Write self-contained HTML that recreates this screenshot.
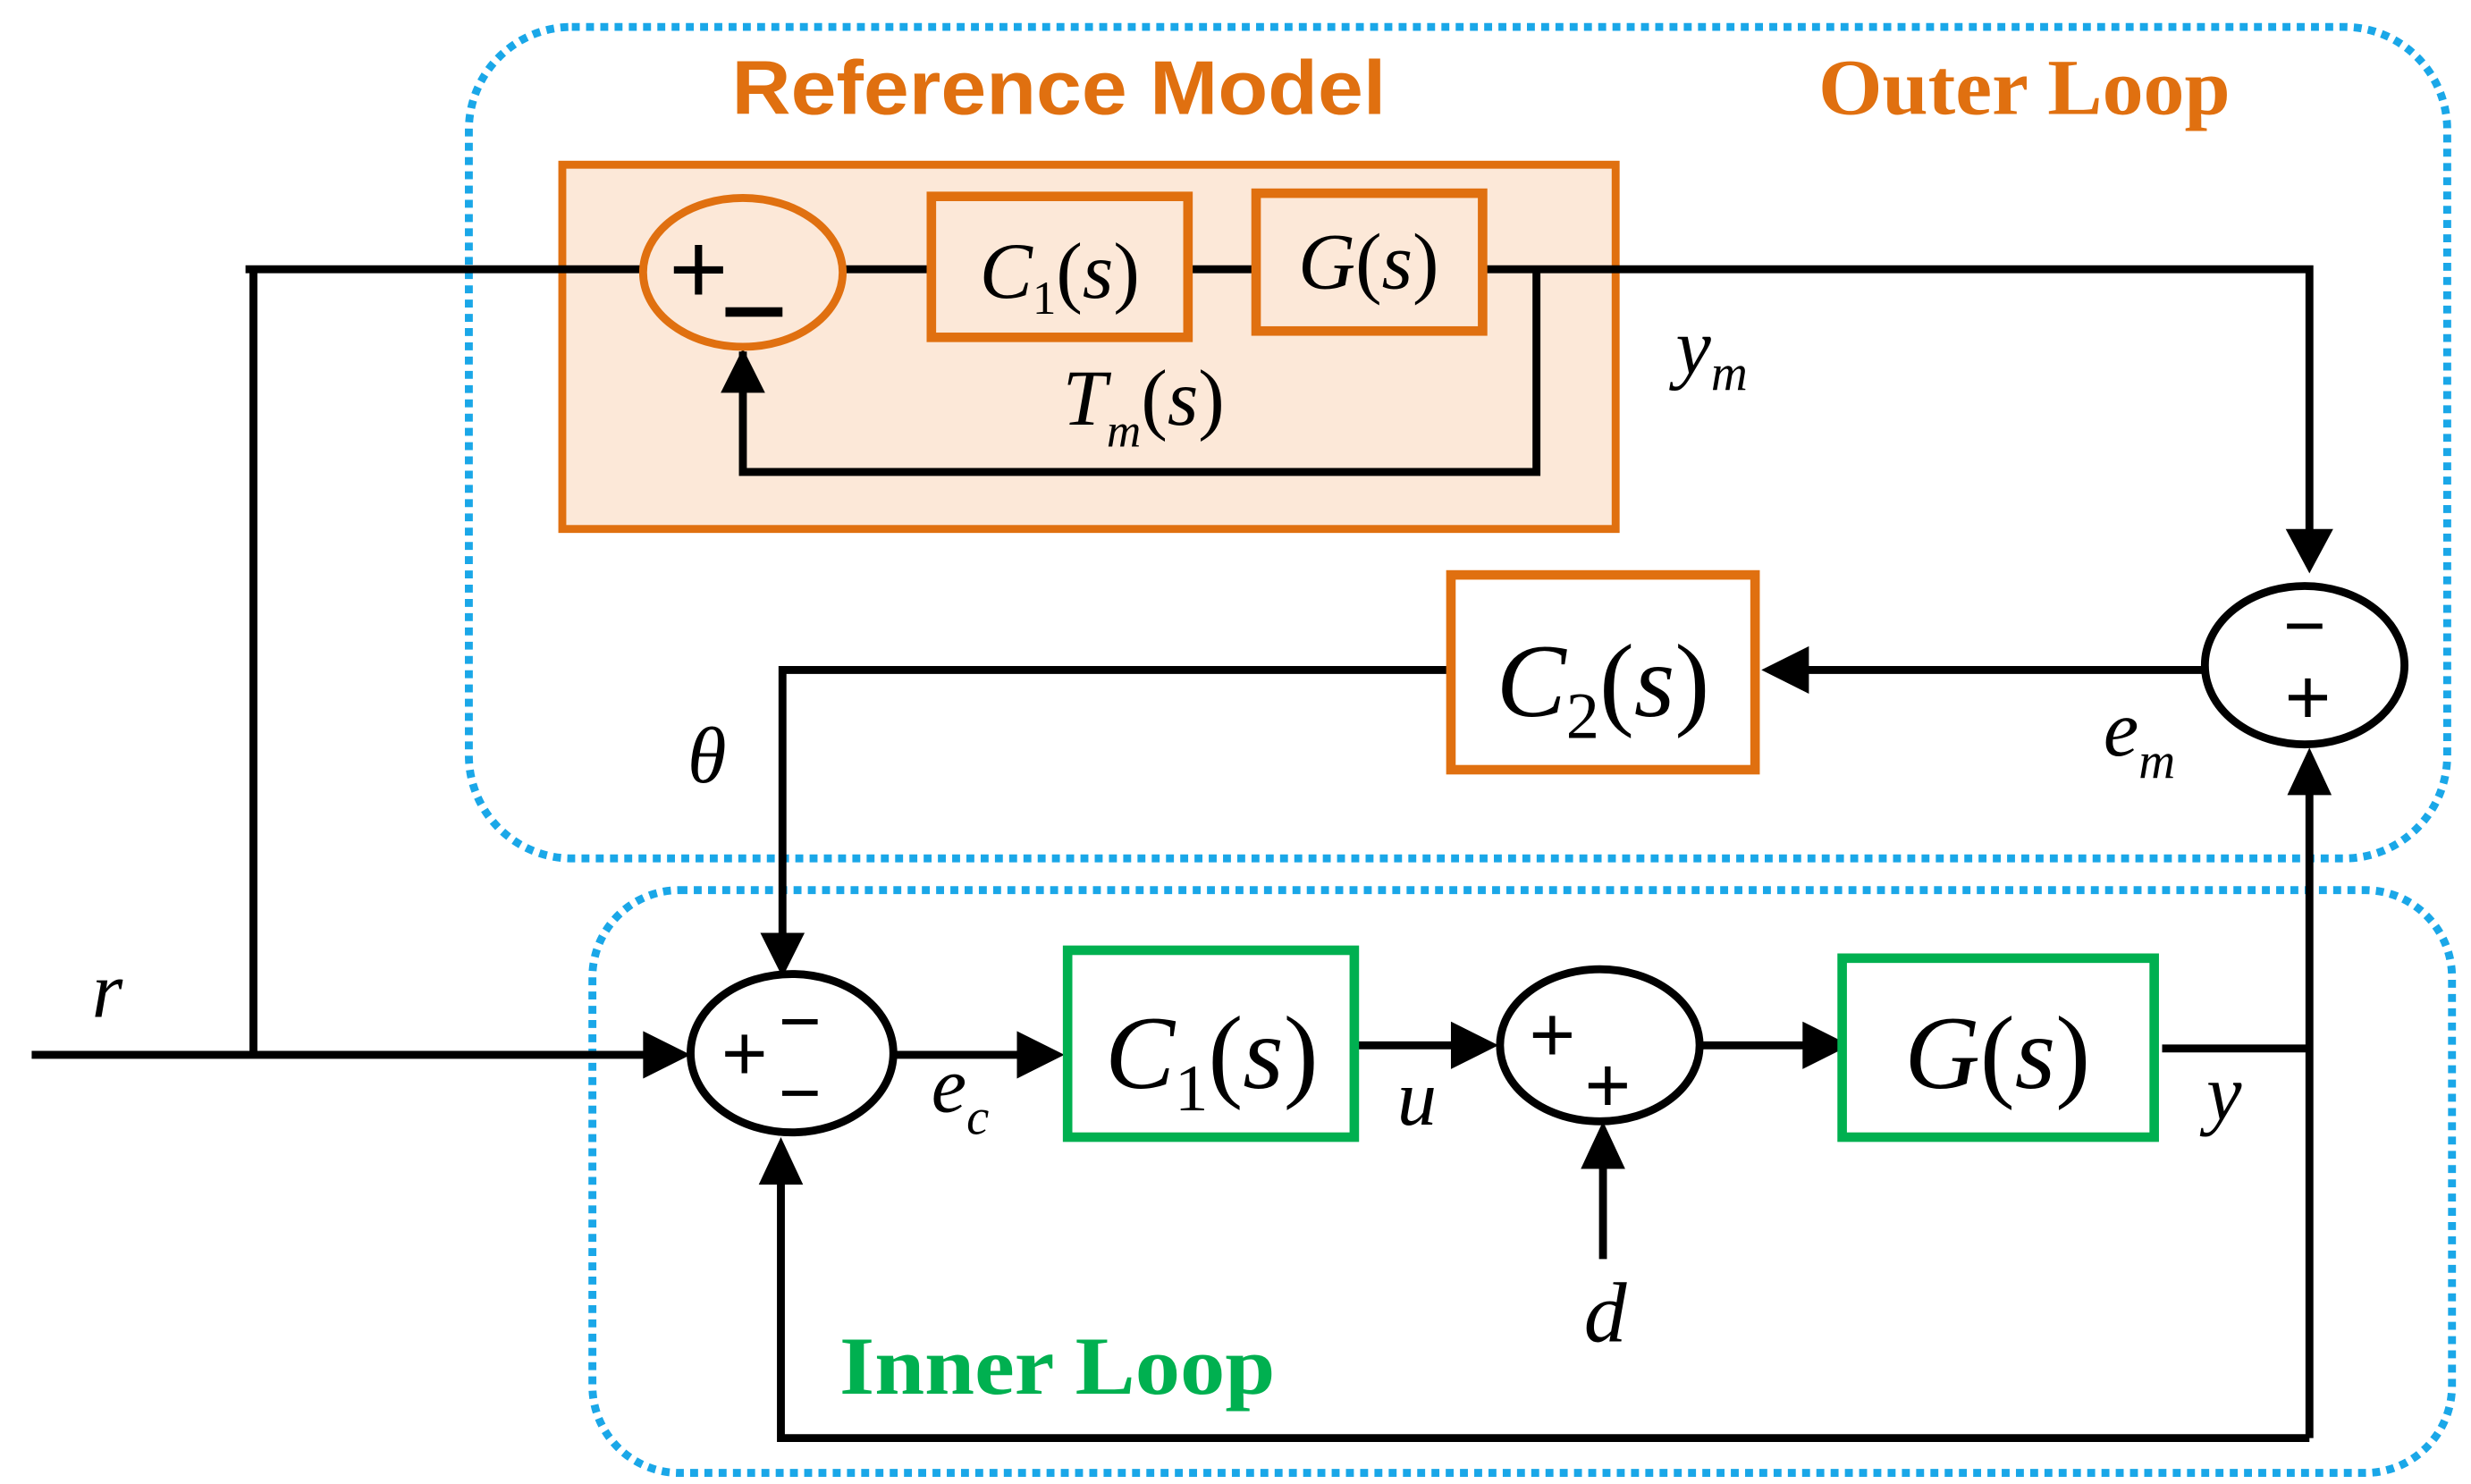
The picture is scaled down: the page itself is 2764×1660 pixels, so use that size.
<!DOCTYPE html>
<html><head><meta charset="utf-8"><style>
html,body{margin:0;padding:0;background:#fff;}
svg{display:block;}
.m{font-family:"Liberation Serif",serif;font-style:italic;fill:#000;}
.p{font-family:"Liberation Serif",serif;fill:#000;}
.s{font-family:"Liberation Sans",sans-serif;fill:#000;dominant-baseline:central;text-anchor:middle;}
</style></head><body>
<svg width="2764" height="1660" viewBox="0 0 1560 937" preserveAspectRatio="none" xmlns="http://www.w3.org/2000/svg">
<defs></defs>
<g fill="none" stroke="#1aa7e8" stroke-width="5" stroke-dasharray="5 4">
<rect x="296" y="17" width="1249" height="525" rx="65"/>
<rect x="374" y="562" width="1174" height="368" rx="55"/>
</g>
<text x="462" y="72" textLength="413" lengthAdjust="spacingAndGlyphs" font-family="Liberation Sans,sans-serif" font-weight="bold" font-size="48" fill="#e07010">Reference Model</text>
<text x="1148" y="72" textLength="260" lengthAdjust="spacingAndGlyphs" font-family="Liberation Serif,serif" font-weight="bold" font-size="50" fill="#e07010">Outer Loop</text>
<text x="530" y="880" textLength="275" lengthAdjust="spacingAndGlyphs" font-family="Liberation Serif,serif" font-weight="bold" font-size="52" fill="#00b050">Inner Loop</text>
<rect x="355" y="104" width="665" height="230" fill="#fce8d8" stroke="#e07010" stroke-width="5"/>
<g stroke="#000" stroke-width="5" fill="none">
<polyline points="155,170 405,170"/>
<line x1="533" y1="170" x2="590" y2="170"/>
<line x1="750" y1="170" x2="793" y2="170"/>
<polyline points="936,170 1458,170 1458,340"/>
<polyline points="970,170 970,298 469,298 469,222"/>
<line x1="160" y1="170" x2="160" y2="666"/>
<polyline points="1390,423 1118,423"/>
<polyline points="916,423 494,423 494,600"/>
<line x1="20" y1="666" x2="428" y2="666"/>
<line x1="565" y1="666" x2="664" y2="666"/>
<line x1="855" y1="660" x2="938" y2="660"/>
<line x1="1075" y1="660" x2="1158" y2="660"/>
<line x1="1012" y1="795" x2="1012" y2="718"/>
<polyline points="1365,662 1458,662"/>
<polyline points="1458,908 1458,482"/>
<polyline points="1458,908 493,908 493,725"/>
</g>
<g fill="#000">
<path d="M1458,362 l-15,-28 h30z"/>
<path d="M469,220 l-14,28 h28z"/>
<path d="M1112,423 l30,-15 v30z"/>
<path d="M494,617 l-14,-28 h28z"/>
<path d="M436,666 l-30,-15 v30z"/>
<path d="M672,666 l-30,-15 v30z"/>
<path d="M946,660 l-30,-15 v30z"/>
<path d="M1168,660 l-30,-15 v30z"/>
<path d="M1012,708 l-14,30 h28z"/>
<path d="M1458,472 l-14,30 h28z"/>
<path d="M493,718 l-14,30 h28z"/>
</g>
<ellipse cx="469" cy="172" rx="63" ry="47" fill="#fce8d8" stroke="#e07010" stroke-width="5"/>
<text x="441" y="170" class="s" font-size="64">+</text>
<rect x="458" y="194" width="36" height="6" fill="#000"/>
<rect x="588" y="124" width="162" height="89" fill="#fce8d8" stroke="#e07010" stroke-width="6"/>
<rect x="793" y="122" width="143" height="87" fill="#fce8d8" stroke="#e07010" stroke-width="6"/>
<text x="669" y="188" text-anchor="middle" class="m" font-size="50">C<tspan font-style="normal" font-size="30" dy="10">1</tspan><tspan font-style="normal" dy="-10">(</tspan>s<tspan font-style="normal">)</tspan></text>
<text x="864" y="182" text-anchor="middle" class="m" font-size="50">G<tspan font-style="normal">(</tspan>s<tspan font-style="normal">)</tspan></text>
<text x="722" y="268" text-anchor="middle" class="m" font-size="50">T<tspan font-size="30" dy="14">m</tspan><tspan font-style="normal" dy="-14">(</tspan>s<tspan font-style="normal">)</tspan></text>
<text x="1058" y="236" class="m" font-size="50">y<tspan font-size="32" dy="10">m</tspan></text>
<rect x="916" y="363" width="192" height="123" fill="#fff" stroke="#e07010" stroke-width="6"/>
<text x="1012" y="452" text-anchor="middle" class="m" font-size="66">C<tspan font-style="normal" font-size="42" dy="14">2</tspan><tspan font-style="normal" dy="-14">(</tspan>s<tspan font-style="normal">)</tspan></text>
<ellipse cx="1455" cy="420" rx="63" ry="50" fill="#fff" stroke="#000" stroke-width="5"/>
<text x="1455" y="395" class="s" font-size="46">−</text>
<text x="1457" y="440" class="s" font-size="50">+</text>
<text x="1328" y="477" class="m" font-size="50">e<tspan font-size="32" dy="14">m</tspan></text>
<text x="434" y="494" class="m" font-size="50">θ</text>
<text x="58" y="642" class="m" font-size="50">r</text>
<ellipse cx="500" cy="665" rx="64" ry="50" fill="#fff" stroke="#000" stroke-width="5"/>
<text x="470" y="665" class="s" font-size="50">+</text>
<text x="505" y="645" class="s" font-size="46">−</text>
<text x="505" y="690" class="s" font-size="46">−</text>
<text x="588" y="702" class="m" font-size="50">e<tspan font-size="32" dy="14">c</tspan></text>
<rect x="674" y="600" width="181" height="118" fill="#fff" stroke="#00b050" stroke-width="6"/>
<text x="765" y="687" text-anchor="middle" class="m" font-size="66">C<tspan font-style="normal" font-size="42" dy="14">1</tspan><tspan font-style="normal" dy="-14">(</tspan>s<tspan font-style="normal">)</tspan></text>
<text x="882" y="710" class="m" font-size="50">u</text>
<ellipse cx="1010" cy="660" rx="63" ry="48" fill="#fff" stroke="#000" stroke-width="5"/>
<text x="980" y="653" class="s" font-size="50">+</text>
<text x="1015" y="685" class="s" font-size="50">+</text>
<text x="1000" y="847" class="m" font-size="54">d</text>
<rect x="1163" y="605" width="197" height="113" fill="#fff" stroke="#00b050" stroke-width="6"/>
<text x="1261" y="687" text-anchor="middle" class="m" font-size="66">G<tspan font-style="normal">(</tspan>s<tspan font-style="normal">)</tspan></text>
<text x="1393" y="707" class="m" font-size="50">y</text>
</svg>
</body></html>
